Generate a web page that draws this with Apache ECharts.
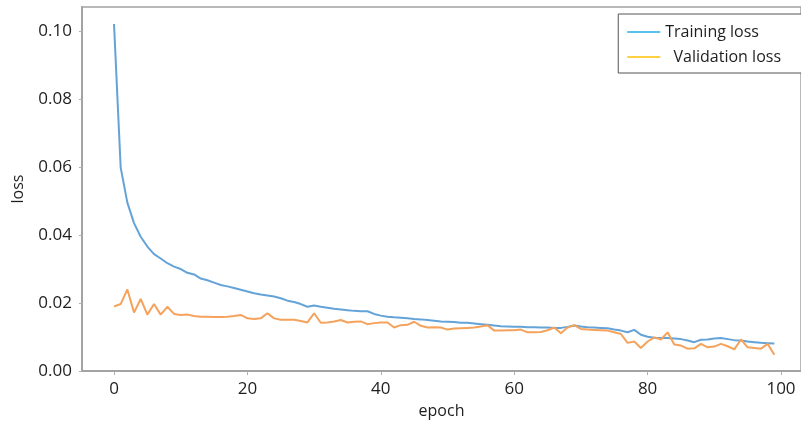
<!DOCTYPE html>
<html>
<head>
<meta charset="utf-8">
<script src="https://cdn.jsdelivr.net/npm/echarts@6/dist/echarts.min.js"></script>
<style>html,body{margin:0;padding:0;background:#fff;}#c{width:801px;height:424px;}</style>
</head>
<body>
<div id="c"></div>
<script>
const seriesNames = ['Training loss', 'Validation loss'];
const xTicks = [0, 20, 40, 60, 80, 100];
const trainingLoss = [
0.1020,0.0598,0.0495,0.0435,0.0395,0.0366,0.0344,0.0331,0.0317,0.0307,
0.0300,0.0289,0.0284,0.0272,0.0267,0.0260,0.0253,0.0249,0.0244,0.0239,
0.0234,0.0229,0.0225,0.0222,0.0219,0.0214,0.0207,0.0203,0.0197,0.0189,
0.0193,0.0189,0.0186,0.0183,0.0181,0.0179,0.0177,0.0176,0.0176,0.0168,
0.0163,0.0160,0.0158,0.0157,0.0155,0.0153,0.0152,0.0150,0.0148,0.0146,
0.0145,0.0144,0.0142,0.0142,0.0140,0.0138,0.0136,0.0134,0.0132,0.0131,
0.0130,0.0130,0.0129,0.0129,0.0128,0.0128,0.0127,0.0127,0.0130,0.0134,
0.0131,0.0129,0.0128,0.0127,0.0126,0.0122,0.0119,0.0114,0.0121,0.0107,
0.0101,0.0098,0.0097,0.0097,0.0096,0.0094,0.0090,0.0085,0.0092,0.0093,
0.0096,0.0097,0.0094,0.0091,0.0090,0.0087,0.0085,0.0083,0.0082,0.0081
];
const validationLoss = [
0.0190,0.0197,0.0240,0.0172,0.0212,0.0166,0.0197,0.0166,0.0189,0.0168,
0.0165,0.0166,0.0162,0.0160,0.0160,0.0159,0.0159,0.0160,0.0162,0.0165,
0.0155,0.0153,0.0155,0.0170,0.0155,0.0151,0.0151,0.0151,0.0147,0.0143,
0.0170,0.0142,0.0143,0.0146,0.0150,0.0143,0.0145,0.0146,0.0138,0.0141,
0.0143,0.0143,0.0128,0.0135,0.0136,0.0145,0.0133,0.0128,0.0129,0.0128,
0.0122,0.0125,0.0126,0.0127,0.0128,0.0131,0.0135,0.0119,0.0119,0.0120,
0.0120,0.0122,0.0114,0.0114,0.0115,0.0120,0.0128,0.0111,0.0128,0.0135,
0.0124,0.0122,0.0121,0.0120,0.0119,0.0114,0.0109,0.0083,0.0087,0.0068,
0.0087,0.0099,0.0093,0.0114,0.0078,0.0075,0.0066,0.0067,0.0080,0.0070,
0.0072,0.0080,0.0073,0.0064,0.0093,0.0070,0.0068,0.0066,0.0080,0.0048
];

const pairs = arr => arr.map((v, i) => [i, v]);
const FONT = '"Open Sans", sans-serif';
const chart = echarts.init(document.getElementById('c'), null, {renderer: 'canvas'});
chart.setOption({
  animation: false,
  backgroundColor: '#ffffff',
  grid: {left: 82, top: 7, right: -2, bottom: 49, show: true, borderColor: '#a3a3a3', borderWidth: 1.5, containLabel: false},
  legend: {
    orient: 'vertical', right: -60, top: 14,
    padding: [10, 80, 8, 9],
    itemWidth: 33, itemHeight: 14, itemGap: 9,
    borderColor: '#555', borderWidth: 1, backgroundColor: '#fff',
    icon: 'path://M0,6 L33,6 L33,7.6 L0,7.6 Z',
    formatter: n => n === 'Validation loss' ? '  Validation loss' : n,
    textStyle: {fontFamily: FONT, fontSize: 16, color: '#1e1e1e'},
    data: [
      {name: seriesNames[0], itemStyle: {color: '#22ade6'}},
      {name: seriesNames[1], itemStyle: {color: '#ffc000'}}
    ]
  },
  xAxis: {
    type: 'value', min: -4.8, max: 103,
    name: 'epoch', nameLocation: 'middle', nameGap: 30,
    nameTextStyle: {fontFamily: FONT, fontSize: 16, color: '#1e1e1e'},
    splitLine: {show: false},
    axisLine: {show: true, onZero: false, lineStyle: {color: '#a3a3a3', width: 2}},
    axisTick: {show: true, length: 4, customValues: xTicks, lineStyle: {color: '#b0b0b0'}},
    axisLabel: {customValues: xTicks, margin: 10, fontFamily: FONT, fontSize: 17, color: '#1e1e1e'}
  },
  yAxis: {
    type: 'value', min: 0, max: 0.107, interval: 0.02,
    name: 'loss', nameLocation: 'middle', nameGap: 56,
    nameTextStyle: {fontFamily: FONT, fontSize: 16, color: '#1e1e1e', padding: [0, 0, 0, 0]},
    splitLine: {show: false},
    axisLine: {show: true, onZero: false, lineStyle: {color: '#a3a3a3', width: 2}},
    axisTick: {show: true, length: 3, lineStyle: {color: '#b0b0b0'}},
    axisLabel: {margin: 10, fontFamily: FONT, fontSize: 17, color: '#1e1e1e', formatter: v => v.toFixed(2), showMaxLabel: false}
  },
  series: [
    {name: seriesNames[0], type: 'line', data: pairs(trainingLoss), showSymbol: false, symbol: 'none',
     lineStyle: {color: '#64a3d8', width: 2}, itemStyle: {color: '#64a3d8'}},
    {name: seriesNames[1], type: 'line', data: pairs(validationLoss), showSymbol: false, symbol: 'none',
     lineStyle: {color: '#f5a25c', width: 2}, itemStyle: {color: '#f5a25c'}}
  ]
});
</script>
</body>
</html>
